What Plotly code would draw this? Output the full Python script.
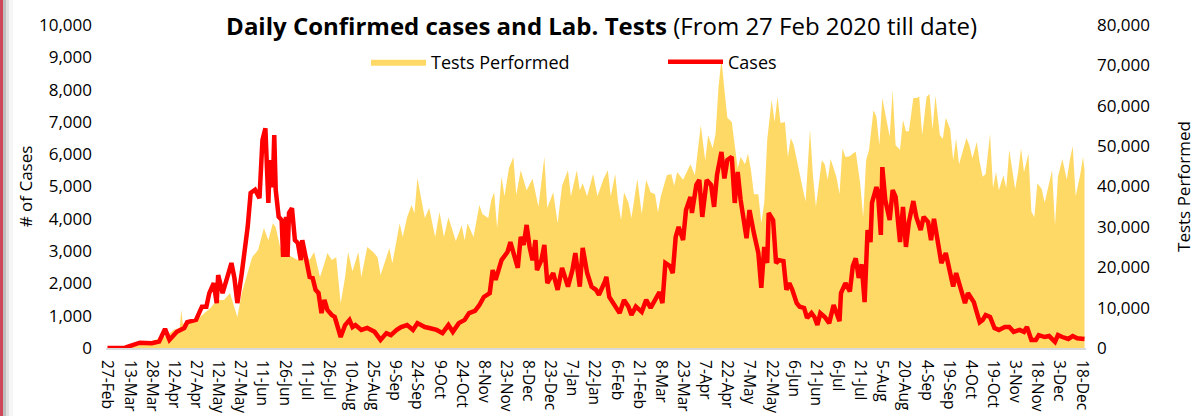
import pandas as pd
import plotly.graph_objects as go

START = pd.Timestamp("2020-02-27")

# Daily confirmed cases (day offset from 27-Feb-2020, value)
case_days = [0, 12, 17, 22, 30, 35, 39, 42, 47, 52, 54, 60, 64, 67, 69, 72, 74, 75, 78, 80, 82, 84, 86, 88, 91, 93, 95, 97, 100, 103, 105, 107, 109, 110, 112, 113, 114, 116, 118, 119, 121, 122, 123, 125, 127, 129, 131, 132, 135, 137, 139, 141, 143, 145, 147, 149, 152, 154, 156, 158, 161, 164, 166, 168, 172, 176, 181, 185, 189, 192, 196, 199, 203, 207, 210, 215, 218, 223, 227, 231, 234, 238, 242, 245, 249, 252, 255, 259, 261, 263, 267, 269, 271, 273, 275, 278, 280, 282, 284, 286, 288, 290, 291, 294, 296, 298, 302, 305, 308, 312, 315, 317, 320, 322, 325, 328, 331, 333, 337, 338, 340, 343, 347, 350, 353, 355, 358, 362, 365, 368, 372, 374, 376, 378, 381, 383, 385, 387, 390, 392, 395, 396, 399, 401, 403, 406, 409, 411, 413, 416, 418, 420, 423, 425, 427, 429, 433, 435, 438, 441, 443, 445, 447, 448, 451, 453, 455, 458, 460, 462, 464, 467, 469, 472, 474, 477, 479, 481, 483, 486, 489, 492, 496, 497, 500, 503, 505, 507, 509, 511, 513, 515, 517, 518, 521, 522, 524, 525, 527, 530, 532, 534, 537, 539, 541, 543, 546, 548, 551, 553, 556, 558, 560, 562, 565, 568, 570, 573, 575, 578, 581, 583, 585, 587, 589, 591, 593, 595, 598, 601, 604, 608, 611, 614, 618, 621, 623, 626, 629, 631, 635, 638, 642, 644, 647, 651, 654, 657, 662]
cases = [0, 10, 90, 165, 150, 200, 590, 250, 500, 620, 800, 870, 1280, 1280, 1700, 2010, 1390, 2260, 1700, 2010, 2400, 2630, 2170, 1390, 2320, 2940, 3750, 4800, 4900, 4640, 6440, 6800, 4490, 5820, 4980, 6590, 4890, 4060, 3960, 2820, 4060, 2820, 4180, 4330, 3340, 3250, 2720, 3340, 2720, 2200, 2170, 1800, 1700, 1080, 1490, 1180, 1020, 960, 650, 340, 710, 870, 650, 710, 560, 620, 500, 250, 460, 400, 560, 650, 710, 560, 770, 650, 620, 560, 460, 710, 500, 770, 870, 1080, 1150, 1330, 1580, 1700, 2410, 2110, 2720, 2820, 2970, 3280, 2940, 2480, 3440, 3190, 3810, 3130, 2720, 3340, 2410, 2720, 3190, 2010, 2320, 1800, 2480, 1900, 2410, 2940, 1900, 3100, 2320, 1900, 1800, 1650, 2050, 2200, 1580, 1390, 1080, 1490, 1280, 1020, 1280, 1120, 1490, 1240, 1580, 1730, 1390, 2630, 2540, 2320, 3440, 3750, 3340, 4270, 4680, 4180, 5050, 5200, 4060, 5200, 5050, 4370, 5360, 6070, 5250, 5820, 5920, 4490, 5450, 4580, 3400, 4270, 3550, 2940, 1860, 3130, 2630, 4180, 3960, 2630, 2720, 2690, 1800, 2010, 1800, 1390, 1280, 1240, 930, 1080, 960, 710, 1080, 960, 770, 1330, 830, 1700, 2010, 1750, 2540, 2780, 2170, 2590, 1420, 3650, 3280, 4490, 4980, 4830, 3500, 5600, 4580, 3960, 4890, 4680, 3280, 4370, 3130, 3900, 4550, 4060, 3650, 4060, 3900, 3340, 4000, 3440, 2630, 2940, 2540, 1900, 2320, 1800, 1390, 1700, 1570, 1420, 1100, 800, 870, 1020, 960, 620, 560, 650, 650, 500, 560, 500, 650, 250, 250, 400, 340, 370, 190, 400, 340, 280, 370, 300, 280]

# Lab tests performed (day offset from 27-Feb-2020, value)
test_days = [0, 10, 20, 28, 35, 40, 45, 49, 50, 51, 56, 62, 66, 70, 74, 79, 83, 86, 88, 91, 95, 98, 102, 106, 109, 112, 114, 117, 120, 125, 129, 134, 137, 140, 144, 147, 149, 152, 155, 158, 161, 163, 166, 170, 172, 176, 180, 183, 185, 189, 191, 193, 196, 198, 200, 203, 206, 208, 210, 213, 215, 218, 222, 225, 228, 231, 234, 236, 240, 242, 244, 248, 252, 254, 258, 260, 262, 264, 267, 269, 272, 275, 277, 280, 284, 288, 292, 296, 298, 302, 305, 308, 312, 314, 318, 320, 322, 325, 329, 332, 336, 339, 341, 344, 346, 348, 350, 353, 355, 357, 359, 362, 365, 368, 371, 373, 375, 379, 382, 384, 386, 390, 393, 395, 398, 400, 402, 405, 407, 410, 412, 414, 416, 418, 420, 423, 425, 427, 429, 432, 434, 436, 438, 441, 443, 445, 447, 450, 452, 454, 456, 459, 461, 463, 465, 468, 471, 473, 476, 478, 480, 484, 486, 488, 490, 494, 496, 498, 500, 503, 505, 507, 510, 512, 514, 516, 519, 521, 523, 525, 528, 530, 532, 534, 537, 539, 541, 543, 546, 548, 550, 552, 555, 557, 559, 561, 564, 566, 568, 571, 573, 575, 577, 580, 582, 584, 586, 589, 591, 593, 595, 598, 600, 602, 604, 607, 609, 611, 613, 615, 617, 619, 621, 624, 626, 628, 630, 633, 635, 638, 640, 642, 644, 647, 650, 652, 654, 656, 659, 661, 662]
tests = [0, 100, 500, 1500, 2500, 3000, 4500, 5000, 9500, 6000, 6200, 7400, 8700, 10000, 11900, 11900, 13600, 10150, 7700, 13600, 18600, 22500, 24250, 29700, 26700, 30900, 30000, 25000, 23500, 22500, 21800, 23500, 21800, 23800, 17600, 21000, 23500, 21800, 22500, 11100, 17600, 23800, 19000, 23800, 17600, 25000, 23800, 22500, 18100, 22500, 24750, 21000, 27500, 30900, 27500, 32400, 35400, 33400, 42100, 35900, 32200, 34650, 27500, 33700, 27500, 32400, 28500, 26500, 30400, 26700, 30900, 27500, 35400, 33200, 32200, 36600, 38600, 29700, 42400, 37600, 44500, 47300, 37900, 44000, 39100, 41900, 35000, 47300, 34650, 38600, 30900, 40200, 44000, 37600, 44000, 39100, 40800, 37600, 43100, 37600, 41800, 44000, 37600, 43100, 36000, 31700, 38600, 36000, 32200, 36800, 41900, 33200, 41700, 38600, 38100, 33600, 37700, 42800, 43100, 40200, 43600, 41700, 44000, 45500, 42800, 49800, 55200, 46500, 52700, 49500, 53000, 64600, 71500, 64000, 57000, 56000, 49800, 44500, 47300, 45500, 48200, 44000, 38100, 38100, 30900, 36000, 51500, 61400, 56000, 62200, 55700, 56000, 47300, 52000, 50200, 44500, 39600, 36300, 54200, 42800, 35000, 46500, 45500, 41700, 46800, 42200, 38100, 49500, 47300, 47500, 48200, 48600, 40800, 32400, 46500, 49100, 58900, 57300, 50200, 61900, 55700, 52300, 63900, 50200, 49100, 56500, 53700, 53700, 61900, 61900, 62200, 52700, 62200, 62900, 54200, 62500, 52700, 51800, 57000, 54200, 46500, 51800, 45500, 49500, 52000, 50200, 47000, 51000, 46000, 42400, 43100, 53000, 39600, 43600, 39100, 42800, 39600, 49100, 44500, 39400, 43600, 49500, 43600, 48200, 33800, 32400, 40800, 39400, 36000, 40800, 44000, 30400, 42400, 46800, 41700, 46500, 50000, 37600, 42800, 47300, 44000]

case_dates = START + pd.to_timedelta(case_days, unit="D")
test_dates = START + pd.to_timedelta(test_days, unit="D")

FONT = "Open Sans"
W, H = 1196, 416
ML, MR, MT, MB = 106, 110, 25, 68
PW, PH = W - ML - MR, H - MT - MB

fig = go.Figure()
fig.add_trace(go.Scatter(
    x=test_dates, y=tests, name="Tests Performed", mode="lines",
    line=dict(width=0, color="#FFD966"), fill="tozeroy", fillcolor="#FFD966",
    yaxis="y"))
fig.add_trace(go.Scatter(
    x=case_dates, y=cases, name="Cases", mode="lines",
    line=dict(width=4.5, color="#FF0000"), yaxis="y2"))


def px_x(p):
    return (p - ML) / PW


# page edge strip (left border of the screenshot)
edge = [(0, 3, "rgb(205,70,90)"), (3, 6, "rgba(140,140,140,0.55)"),
        (6, 9, "rgba(170,170,170,0.35)"), (9, 13, "rgba(200,200,200,0.18)")]
shapes = [dict(type="rect", xref="paper", yref="paper", x0=px_x(a), x1=px_x(b),
               y0=-MB / PH, y1=1 + MT / PH, fillcolor=c, line=dict(width=0))
          for a, b, c in edge]

fig.update_layout(
    width=W, height=H,
    margin=dict(l=ML, r=MR, t=MT, b=MB),
    paper_bgcolor="white", plot_bgcolor="white",
    font=dict(family=FONT, size=17, color="#000000"),
    shapes=shapes,
    title=dict(text="<b>Daily Confirmed cases and Lab. Tests</b> (From 27 Feb 2020 till date)",
               x=0.503, xref="container", xanchor="center",
               y=1 - 27 / H, yref="container", yanchor="middle",
               font=dict(family=FONT, size=24, color="#000000")),
    showlegend=True,
    legend=dict(orientation="h", x=px_x(366), xanchor="left",
                y=(H - MB - 62) / PH, yanchor="middle",
                font=dict(family=FONT, size=18), bgcolor="rgba(0,0,0,0)",
                itemwidth=55, entrywidth=227, entrywidthmode="pixels"),
    xaxis=dict(type="date", range=["2020-02-26", "2021-12-21"],
               tick0="2020-02-27", dtick=15 * 86400000, tickformat="%-d-%b",
               tickangle=90, showgrid=False, zeroline=False, automargin=False,
               showline=True, linecolor="#D9D9D9", linewidth=2,
               ticks="", tickfont=dict(size=15.5), ticklabelstandoff=7),
    yaxis=dict(range=[0, 80000], dtick=10000, tickformat=",", side="right",
               showgrid=False, zeroline=False, ticks="", ticklabelstandoff=10,
               automargin=False,
               title=dict(text="Tests Performed", standoff=29, font=dict(size=17))),
    yaxis2=dict(range=[0, 10000], dtick=1000, tickformat=",", side="left",
                overlaying="y", showgrid=False, zeroline=False, ticks="",
                ticklabelstandoff=13, automargin=False,
                title=dict(text="# of Cases", standoff=2, font=dict(size=17))),
)

fig.write_html("out.html", config={"displayModeBar": False},
               post_script="document.body.style.margin='0';document.body.style.overflow='hidden';")
